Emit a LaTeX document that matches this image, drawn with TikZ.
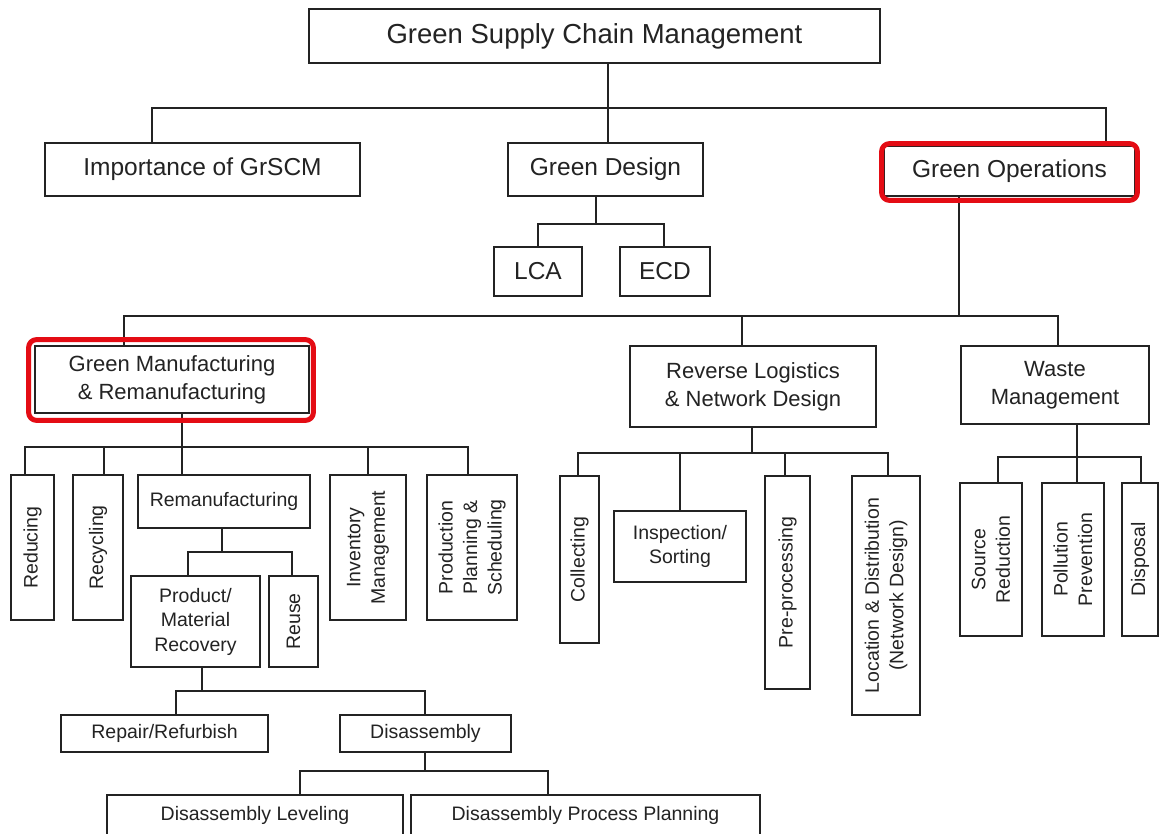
\documentclass[tikz,border=0pt]{standalone}
\usepackage{fontspec}
\setmainfont{Liberation Sans}
\definecolor{ink}{RGB}{35,35,35}
\definecolor{hired}{RGB}{228,12,20}
\begin{document}
\begin{tikzpicture}[x=1pt,y=-1pt,
  bx/.style={draw=ink, line width=1.8pt, inner sep=0pt, align=center, text=ink},
  ln/.style={draw=ink, line width=1.9pt},
  fa/.style={font=\fontsize{27.5}{32}\selectfont},
  fb/.style={font=\fontsize{24.5}{29}\selectfont},
  fc/.style={font=\fontsize{22}{28}\selectfont},
  fd/.style={font=\fontsize{19.5}{24.5}\selectfont},
  hl/.style={draw=hired, line width=5pt, rounded corners=8pt}]
\useasboundingbox (0,0) rectangle (1159,834);
\fill[white] (0,0) rectangle (1159,834);
\clip (0,0) rectangle (1159,834);

% ---------- nodes ----------
\node[bx,fa,minimum width=571pt,minimum height=54pt] (gscm) at (594.5,36) {Green Supply Chain Management};
\node[bx,fb,minimum width=315pt,minimum height=53pt] (imp) at (202.5,169.5) {Importance of GrSCM};
\node[bx,fb,minimum width=195pt,minimum height=53pt] (gd) at (605.5,169.5) {Green Design};
\node[bx,fb,minimum width=251pt,minimum height=50pt] (go) at (1009.5,171) {Green Operations};
\node[bx,fb,minimum width=88pt,minimum height=49pt] (lca) at (538,271.5) {LCA};
\node[bx,fb,minimum width=90pt,minimum height=49pt] (ecd) at (665,271.5) {ECD};

\node[bx,fc,minimum width=274pt,minimum height=67pt] (gmr) at (172,379.5) {Green Manufacturing\\\& Remanufacturing};
\node[bx,fc,minimum width=246pt,minimum height=81pt] (rlnd) at (753,386.5) {Reverse Logistics\\\& Network Design};
\node[bx,fc,minimum width=188pt,minimum height=78pt] (wm) at (1055,385) {Waste\\Management};

\node[bx,fd,rotate=90,minimum width=145pt,minimum height=43pt] (nred) at (32.5,547.5) {Reducing};
\node[bx,fd,rotate=90,minimum width=145pt,minimum height=50pt] (nrec) at (98,547.5) {Recycling};
\node[bx,fd,minimum width=172pt,minimum height=53pt] (nrem) at (224,501.5) {Remanufacturing};
\node[bx,fd,rotate=90,minimum width=145pt,minimum height=76pt] (ninv) at (368,547.5) {Inventory\\Management};
\node[bx,fd,rotate=90,minimum width=145pt,minimum height=90pt] (nprod) at (472,547.5) {Production\\Planning \&\\Scheduling};

\node[bx,fd,minimum width=129pt,minimum height=91pt] (npmr) at (195.5,621.5) {Product/\\Material\\Recovery};
\node[bx,fd,rotate=90,minimum width=91pt,minimum height=49pt] (nreuse) at (293.5,621.5) {Reuse};
\node[bx,fd,minimum width=207pt,minimum height=37pt] (nrep) at (164.5,733.5) {Repair/Refurbish};
\node[bx,fd,minimum width=171pt,minimum height=37pt] (ndis) at (425.5,733.5) {Disassembly};
\node[bx,fd,minimum width=296pt,minimum height=41pt] (ndl) at (255,815.5) {Disassembly Leveling};
\node[bx,fd,minimum width=349pt,minimum height=41pt] (ndpp) at (585.5,815.5) {Disassembly Process Planning};

\node[bx,fd,rotate=90,minimum width=167pt,minimum height=39pt] (ncol) at (579.5,559.5) {Collecting};
\node[bx,fd,minimum width=132pt,minimum height=71pt] (nins) at (680,546.5) {Inspection/\\Sorting};
\node[bx,fd,rotate=90,minimum width=213pt,minimum height=45pt] (npre) at (787.5,582.5) {Pre-processing};
\node[bx,fd,rotate=90,minimum width=239pt,minimum height=68pt] (nloc) at (886,595.5) {Location \& Distribution\\(Network Design)};

\node[bx,fd,rotate=90,minimum width=153pt,minimum height=62pt] (nsrc) at (991,559.5) {Source\\Reduction};
\node[bx,fd,rotate=90,minimum width=153pt,minimum height=62pt] (npol) at (1073,559.5) {Pollution\\Prevention};
\node[bx,fd,rotate=90,minimum width=153pt,minimum height=36pt] (ndsp) at (1140,559.5) {Disposal};

% ---------- junction coordinates ----------
\coordinate (dTop) at (608,108);
\coordinate (dImp) at (152,108);
\coordinate (dGO) at (1106,108);
\coordinate (dGD) at (596,224);
\coordinate (dLCA) at (538,224);
\coordinate (dECD) at (664,224);
\coordinate (dGO2) at (959,316);
\coordinate (dGMR) at (124,316);
\coordinate (dRL) at (742,316);
\coordinate (dWM) at (1058,316);
\coordinate (dG) at (182,447);
\coordinate (dRed) at (25,447);
\coordinate (dRec) at (104,447);
\coordinate (dInv) at (368,447);
\coordinate (dProd) at (468,447);
\coordinate (dR) at (222,552);
\coordinate (dPMR) at (188,552);
\coordinate (dReuse) at (292,552);
\coordinate (dP) at (202,691);
\coordinate (dRep) at (176,691);
\coordinate (dDis) at (425,691);
\coordinate (dD) at (425,771);
\coordinate (dDL) at (300,771);
\coordinate (dDPP) at (548,771);
\coordinate (dRL2) at (752,453);
\coordinate (dCol) at (578,453);
\coordinate (dIns) at (680,453);
\coordinate (dPre) at (785,453);
\coordinate (dLoc) at (888,453);
\coordinate (dW) at (1077,457);
\coordinate (dSrc) at (998,457);
\coordinate (dDsp) at (1141,457);

% ---------- connectors ----------
\draw[ln] (gscm.south -| dTop) -- (dTop) -- (dTop |- gd.north);
\draw[ln] (dImp |- imp.north) -- (dImp) -- (dGO) -- (dGO |- go.north);

\draw[ln] (gd.south -| dGD) -- (dGD);
\draw[ln] (dLCA |- lca.north) -- (dLCA) -- (dECD) -- (dECD |- ecd.north);

\draw[ln] (go.south -| dGO2) -- (dGO2);
\draw[ln] (dGMR |- gmr.north) -- (dGMR) -- (dWM) -- (dWM |- wm.north);
\draw[ln] (dRL) -- (dRL |- rlnd.north);

\draw[ln] (gmr.south -| dG) -- (dG) -- (dG |- nrem.north);
\draw[ln] (dRed |- nred.east) -- (dRed) -- (dProd) -- (dProd |- nprod.east);
\draw[ln] (dRec) -- (dRec |- nrec.east);
\draw[ln] (dInv) -- (dInv |- ninv.east);

\draw[ln] (nrem.south -| dR) -- (dR);
\draw[ln] (dPMR |- npmr.north) -- (dPMR) -- (dReuse) -- (dReuse |- nreuse.east);

\draw[ln] (npmr.south -| dP) -- (dP);
\draw[ln] (dRep |- nrep.north) -- (dRep) -- (dDis) -- (dDis |- ndis.north);

\draw[ln] (ndis.south -| dD) -- (dD);
\draw[ln] (dDL |- ndl.north) -- (dDL) -- (dDPP) -- (dDPP |- ndpp.north);

\draw[ln] (rlnd.south -| dRL2) -- (dRL2);
\draw[ln] (dCol |- ncol.east) -- (dCol) -- (dLoc) -- (dLoc |- nloc.east);
\draw[ln] (dIns) -- (dIns |- nins.north);
\draw[ln] (dPre) -- (dPre |- npre.east);

\draw[ln] (wm.south -| dW) -- (dW) -- (dW |- npol.east);
\draw[ln] (dSrc |- nsrc.east) -- (dSrc) -- (dDsp) -- (dDsp |- ndsp.east);

% ---------- highlights ----------
\draw[hl] ([shift={(-1.5,-1.5)}]go.north west) rectangle ([shift={(1.5,3.5)}]go.south east);
\draw[hl] ([shift={(-5.5,-5.5)}]gmr.north west) rectangle ([shift={(3.5,6.5)}]gmr.south east);
\end{tikzpicture}
\end{document}
